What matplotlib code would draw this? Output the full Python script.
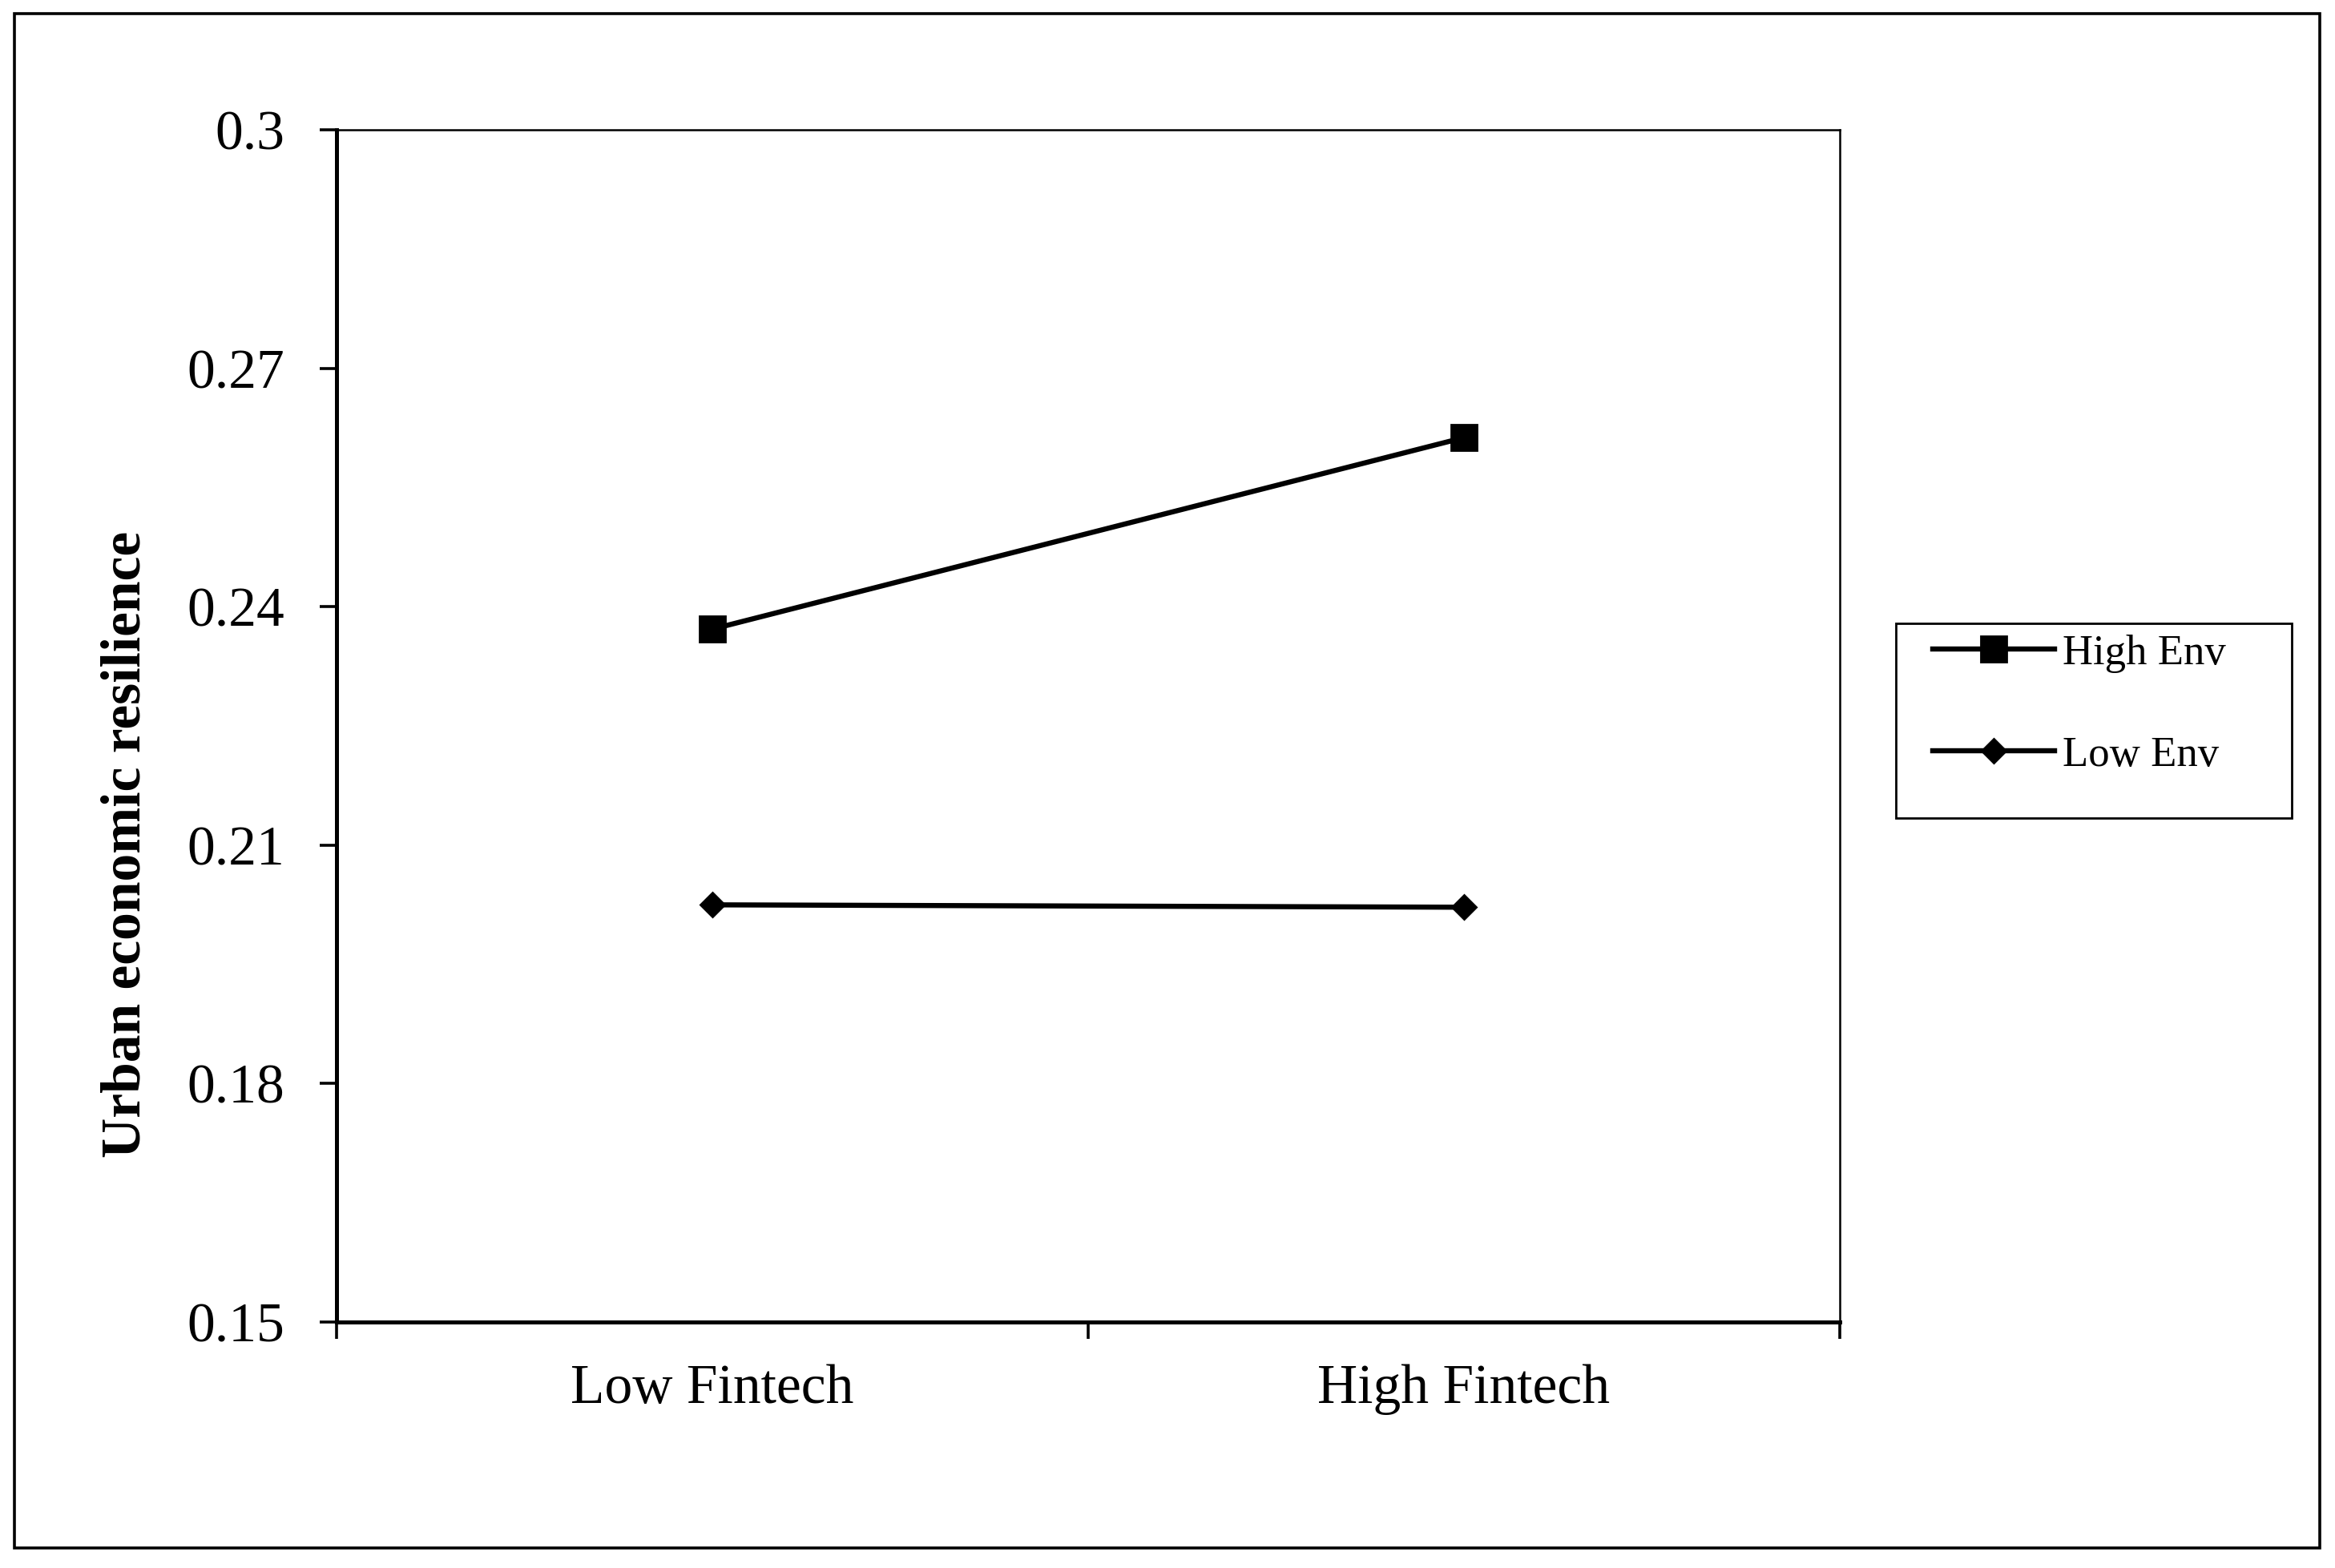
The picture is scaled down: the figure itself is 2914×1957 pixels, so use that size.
import numpy as np
import matplotlib.pyplot as plt
import matplotlib.patches as mpatches

plt.rcParams['font.family'] = ['Liberation Serif', 'DejaVu Serif']

# data
categories = ['Low Fintech', 'High Fintech']
high_env = [0.2372, 0.2613]
low_env = [0.2025, 0.2022]
series_names = ['High Env', 'Low Env']
yticks = [0.15, 0.18, 0.21, 0.24, 0.27, 0.30]
ytick_labels = ['0.15', '0.18', '0.21', '0.24', '0.27', '0.3']
ylabel = 'Urban economic resilience'

fig = plt.figure(figsize=(14.57, 9.785), dpi=200)
ax = fig.add_axes([0.1441, 0.1569, 0.6438, 0.7601])

x = np.arange(len(categories))
ax.plot(x, high_env, color='black', lw=2.3, marker='s', ms=11.5,
        label=series_names[0], zorder=3)
ax.plot(x, low_env, color='black', lw=2.3, marker='D', ms=7.8,
        label=series_names[1], zorder=3)

ax.set_xlim(-0.5, len(categories) - 0.5)
ax.set_ylim(yticks[0], yticks[-1])

# category boundaries as ticks, names centred between them
ax.set_xticks(np.arange(-0.5, len(categories), 1.0))
ax.set_xticklabels([])
ax.set_xticks(x, minor=True)
ax.set_xticklabels(categories, minor=True, fontsize=25)
ax.tick_params(axis='x', which='major', direction='out', length=7.5, width=1.3)
ax.tick_params(axis='x', which='minor', length=0, pad=19)

ax.set_yticks(yticks)
ax.set_yticklabels(ytick_labels, fontsize=25)
ax.tick_params(axis='y', direction='out', length=7.5, width=1.3, pad=15.8)

for side in ['left', 'bottom']:
    ax.spines[side].set_linewidth(1.8)
for side in ['top', 'right']:
    ax.spines[side].set_linewidth(0.9)

ax.set_ylabel(ylabel, fontsize=25, fontweight='bold')
ax.yaxis.set_label_coords(-0.1226, 0.401)

# legend without frame; the box is drawn separately
ax.legend(loc='upper left', bbox_to_anchor=(0.8277, 0.5955),
          bbox_transform=fig.transFigure, frameon=False, fontsize=19,
          handlelength=2.88, handletextpad=0.2, labelspacing=1.5,
          borderpad=0, borderaxespad=0)
fig.patches.append(mpatches.Rectangle((0.8119, 0.4783), 0.1696, 0.1242,
                                      transform=fig.transFigure, fill=False,
                                      edgecolor='black', lw=1.0))

# outer frame round the whole figure
fig.patches.append(mpatches.Rectangle((0.0062, 0.0128), 0.9873, 0.9785,
                                      transform=fig.transFigure, fill=False,
                                      edgecolor='black', lw=1.3))

fig.savefig('out.png', dpi=200)
